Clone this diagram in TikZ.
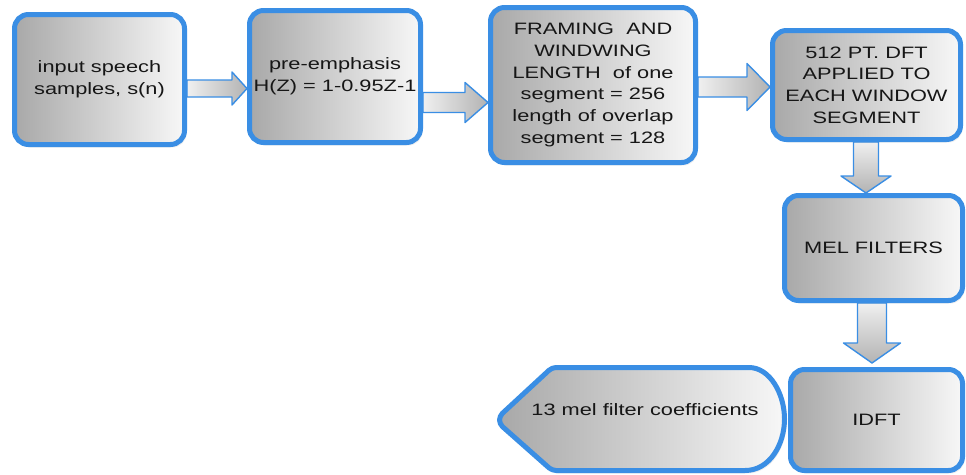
\documentclass[tikz,border=0pt]{standalone}
\usepackage{fontspec}
\setmainfont[FakeStretch=1.32]{Liberation Sans}
\usetikzlibrary{calc,backgrounds,shadows}

\definecolor{edgeblue}{RGB}{58,142,228}
\definecolor{inkgray}{RGB}{22,22,22}

% block arrow pointing right: tail, tip, shaft half-width, head half-width, head length
\newcommand\flowright[5]{%
  \path[flowarrow,left color=white!94!black,right color=black!30]
    let \p1=(#1), \p2=(#2) in
    (\x1,\y2+#3) -- (\x2-#5,\y2+#3) -- (\x2-#5,\y2+#4) -- (\x2,\y2)
    -- (\x2-#5,\y2-#4) -- (\x2-#5,\y2-#3) -- (\x1,\y2-#3) -- cycle;}
% block arrow pointing down: tail, tip, shaft half-width, head half-width, head length
\newcommand\flowdown[5]{%
  \path[flowarrow,top color=white!94!black,bottom color=black!30]
    let \p1=(#1), \p2=(#2) in
    (\x2-#3,\y1) -- (\x2-#3,\y2+#5) -- (\x2-#4,\y2+#5) -- (\x2,\y2)
    -- (\x2+#4,\y2+#5) -- (\x2+#3,\y2+#5) -- (\x2+#3,\y1) -- cycle;}

\tikzset{
  stage/.style={draw=edgeblue, line width=5pt, rounded corners=14pt,
    left color=black!34, right color=white!97!black,
    align=center, inner sep=0pt, text=inkgray,
    drop shadow={opacity=0.12, shadow xshift=2pt, shadow yshift=-3pt}},
  flowarrow/.style={draw=edgeblue, line width=1.4pt, line join=round},
  outline/.style={draw=edgeblue, line width=5pt, line join=round,
    left color=black!34, right color=white!97!black,
    drop shadow={opacity=0.12, shadow xshift=2pt, shadow yshift=-3pt}},
}

\begin{document}
\begin{tikzpicture}[x=1pt, y=-1pt, font=\fontsize{16.5}{21.7}\selectfont]
  \useasboundingbox (0,0) rectangle (966,474);

  % processing stages
  \node[stage, minimum width=170pt, minimum height=130pt] (b1) at (99.5,79.5)
    {input speech\\samples, s(n)};
  \node[stage, minimum width=171pt, minimum height=132pt] (b2) at (335,76.5)
    {pre-emphasis\\H(Z) = 1-0.95Z-1};
  \node[stage, minimum width=205pt, minimum height=155pt] (b3) at (593,85)
    {FRAMING\ \ AND\\WINDWING\\LENGTH\ \ of one\\segment = 256\\length of overlap\\segment = 128};
  \node[stage, minimum width=188pt, minimum height=109pt] (b4) at (866.5,85)
    {512 PT. DFT\\APPLIED TO\\EACH WINDOW\\SEGMENT};
  \node[stage, minimum width=178pt, minimum height=105pt] (b5) at (873.5,248)
    {MEL FILTERS};

  % output terminal: pointed left end, rounded right end
  \path[outline, rounded corners=4pt]
    (552,367.5) -- (745,367.5)
    [sharp corners] .. controls (770,367.5) and (784.5,394) .. (784.5,419)
    .. controls (784.5,444) and (770,470.5) .. (745,470.5)
    [rounded corners=4pt] -- (552,470.5) -- (499.5,424) -- (499.5,416) -- cycle;
  \node[text=inkgray] (b7) at (645,410) {13 mel filter coefficients};

  \node[stage, minimum width=172pt, minimum height=101pt] (b6) at (876.5,420)
    {IDFT};

  % connectors between the stages, tucked under the box borders
  \begin{scope}[on background layer]
    \fill[white] (0,0) rectangle (966,474);
    \flowright{b1.east}{[yshift=-12pt]b2.west}{8.5pt}{16.5pt}{15pt}
    \flowright{b2.east}{[yshift=-17.5pt]b3.west}{10pt}{20pt}{23pt}
    \flowright{b3.east}{[yshift=-2pt]b4.west}{10pt}{23.5pt}{23pt}
    \flowdown{b4.south}{[xshift=-7.5pt]b5.north}{12.5pt}{25pt}{17pt}
    \flowdown{b5.south}{[xshift=-4.5pt,yshift=4pt]b6.north}{14.5pt}{28.5pt}{20pt}
  \end{scope}
\end{tikzpicture}
\end{document}
